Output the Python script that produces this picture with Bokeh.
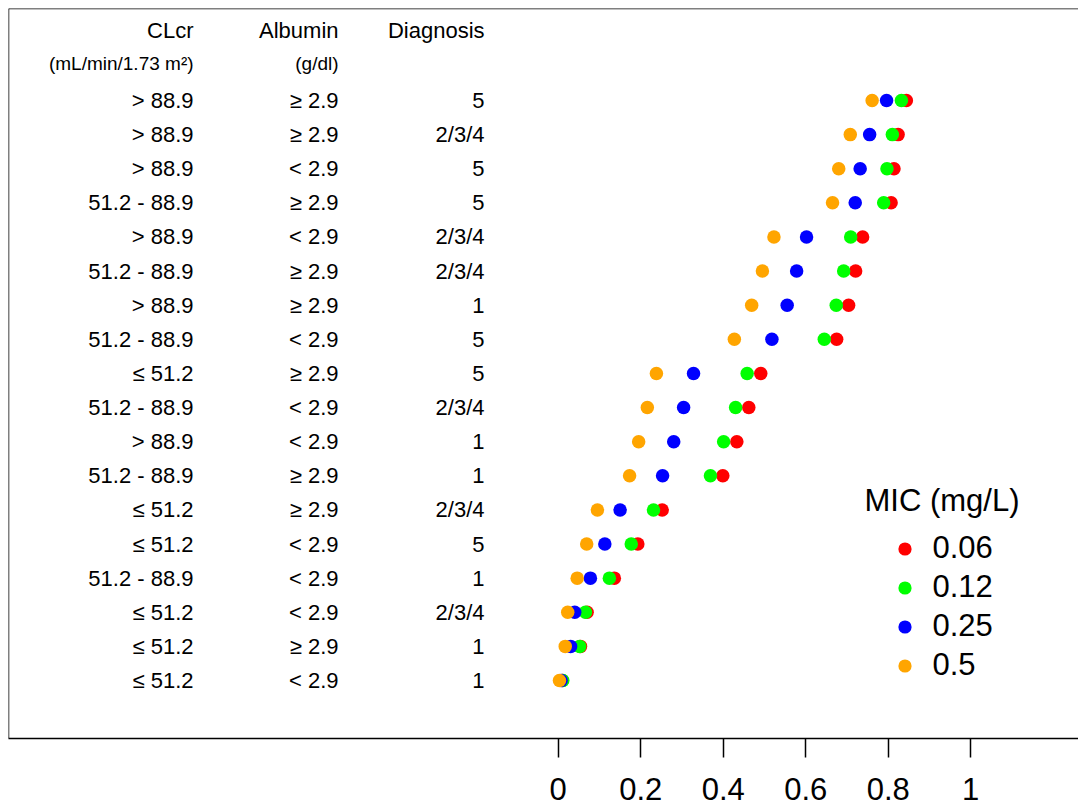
from bokeh.plotting import figure
from bokeh.models import (Range1d, FixedTicker, NumeralTickFormatter, Span,
                          Legend, LegendItem, Label, ColumnDataSource)
from bokeh.core.properties import value
from bokeh.embed import file_html
from bokeh.resources import INLINE

# ---------------- data (rows listed top to bottom) ----------------
clcr = ["> 88.9", "> 88.9", "> 88.9", "51.2 - 88.9", "> 88.9", "51.2 - 88.9",
        "> 88.9", "51.2 - 88.9", "≤ 51.2", "51.2 - 88.9", "> 88.9", "51.2 - 88.9",
        "≤ 51.2", "≤ 51.2", "51.2 - 88.9", "≤ 51.2", "≤ 51.2", "≤ 51.2"]
albumin = ["≥ 2.9", "≥ 2.9", "< 2.9", "≥ 2.9", "< 2.9", "≥ 2.9",
           "≥ 2.9", "< 2.9", "≥ 2.9", "< 2.9", "< 2.9", "≥ 2.9",
           "≥ 2.9", "< 2.9", "< 2.9", "< 2.9", "≥ 2.9", "< 2.9"]
diagnosis = ["5", "2/3/4", "5", "5", "2/3/4", "2/3/4",
             "1", "5", "5", "2/3/4", "1", "1",
             "2/3/4", "5", "1", "2/3/4", "1", "1"]

mic_006 = [0.844, 0.824, 0.814, 0.807, 0.738, 0.721, 0.704, 0.675, 0.491,
           0.462, 0.433, 0.399, 0.252, 0.193, 0.136, 0.070, 0.054, 0.010]
mic_012 = [0.832, 0.810, 0.797, 0.789, 0.709, 0.692, 0.674, 0.645, 0.458,
           0.430, 0.401, 0.369, 0.231, 0.177, 0.124, 0.066, 0.052, 0.011]
mic_025 = [0.796, 0.755, 0.732, 0.720, 0.602, 0.578, 0.555, 0.518, 0.328,
           0.304, 0.280, 0.253, 0.150, 0.113, 0.078, 0.040, 0.030, 0.007]
mic_05 = [0.761, 0.708, 0.680, 0.665, 0.523, 0.495, 0.469, 0.427, 0.238,
          0.216, 0.195, 0.173, 0.095, 0.069, 0.046, 0.023, 0.017, 0.003]

mic_labels = ["0.06", "0.12", "0.25", "0.5"]
legend_title = "MIC (mg/L)"
col_headers = ["CLcr", "Albumin", "Diagnosis"]
col_subheaders = ["(mL/min/1.73 m²)", "(g/dl)", ""]
x_ticks = [0, 0.2, 0.4, 0.6, 0.8, 1]

# ---------------- layout / style ----------------
FONT = value("Liberation Sans")
n = len(clcr)
rows = [n - 1 - i for i in range(n)]          # top row -> highest y
col_x = [-0.8841, -0.5326, -0.1787]            # right edges of text columns
header_y = n - 1 + 2.052
subheader_y = n - 1 + 1.084
colors = ["#FF0000", "#00FF00", "#0000FF", "#FFA500"]

X0, X1 = -1.3327, 1.2613
Y0, Y1 = -1.700, 19.6965

p = figure(width=1078, height=809,
           x_range=Range1d(X0, X1), y_range=Range1d(Y0, Y1),
           output_backend="svg", toolbar_location=None,
           x_axis_location="below", y_axis_location=None,
           min_border_left=8, min_border_right=0, min_border_top=8,
           min_border_bottom=71)
p.outline_line_color = None
p.xgrid.visible = False
p.ygrid.visible = False
p.background_fill_color = "white"
p.border_fill_color = "white"

# box borders (left and top); bottom is the axis line
p.add_layout(Span(location=X0, dimension="height", line_color="black", line_width=1.5))
p.add_layout(Span(location=Y1, dimension="width", line_color="black", line_width=1.5))

ax = p.xaxis[0]
ax.ticker = FixedTicker(ticks=x_ticks)
ax.formatter = NumeralTickFormatter(format="0.[0]")
ax.minor_tick_line_color = None
ax.major_tick_in = 0
ax.major_tick_out = 19
ax.major_tick_line_width = 1.5
ax.major_tick_line_color = "black"
ax.axis_line_width = 1.5
ax.axis_line_color = "black"
ax.major_label_text_font = "Liberation Sans"
ax.major_label_text_font_size = "31px"
ax.major_label_text_color = "black"
ax.major_label_standoff = 20

# table text
for cx, texts in zip(col_x, [clcr, albumin, diagnosis]):
    src = ColumnDataSource(dict(x=[cx] * n, y=rows, t=texts))
    p.text(x="x", y="y", text="t", source=src, text_align="right",
           text_baseline="middle", text_font=FONT, text_font_size="22px",
           text_color="black")

hsrc = ColumnDataSource(dict(x=col_x, y=[header_y] * 3, t=col_headers))
p.text(x="x", y="y", text="t", source=hsrc, text_align="right",
       text_baseline="middle", text_font=FONT, text_font_size="22px",
       text_color="black")
ssrc = ColumnDataSource(dict(x=col_x, y=[subheader_y] * 3, t=col_subheaders))
p.text(x="x", y="y", text="t", source=ssrc, text_align="right",
       text_baseline="middle", text_font=FONT, text_font_size="19px",
       text_color="black")

# points: drawn red, green, blue, orange (orange on top)
renderers = []
for vals, c in zip([mic_006, mic_012, mic_025, mic_05], colors):
    r = p.scatter(x=vals, y=rows, size=13.5, fill_color=c, line_color=None)
    renderers.append(r)

legend = Legend(items=[LegendItem(label=l, renderers=[r]) for l, r in zip(mic_labels, renderers)],
                location=(879.5, 55), orientation="vertical",
                padding=0, margin=0, spacing=3,
                glyph_width=33, glyph_height=35, label_height=35,
                label_standoff=12, label_text_font="Liberation Sans",
                label_text_font_size="31px", label_text_color="black",
                border_line_color=None, background_fill_alpha=0)
p.add_layout(legend, "center")

p.add_layout(Label(x=0.7425, y=5.276, text=legend_title, text_align="left",
                   text_baseline="middle", text_font="Liberation Sans",
                   text_font_size="31px", text_color="black"))

open("out.html", "w").write(file_html(p, INLINE))
